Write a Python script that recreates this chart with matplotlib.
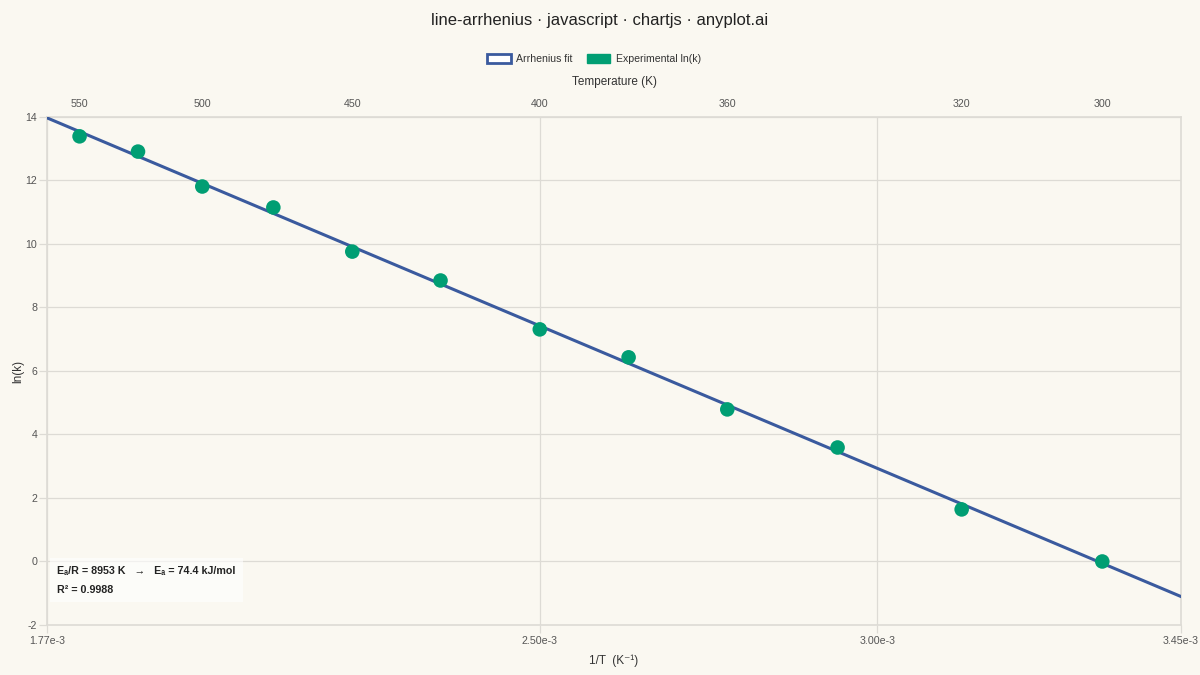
import numpy as np
import matplotlib
matplotlib.use('agg')
import matplotlib.pyplot as plt
from matplotlib.patches import Patch

plt.rcParams['font.family'] = ['Liberation Sans', 'DejaVu Sans']
plt.rcParams['axes.unicode_minus'] = False

# data
temps = [550, 525, 500, 475, 450, 425, 400, 380, 360, 340, 320, 300]
lnk = [13.39, 12.91, 11.81, 11.15, 9.76, 8.85, 7.31, 6.43, 4.79, 3.59, 1.64, 0.0]
top_temps = [550, 500, 450, 400, 360, 320, 300]
bottom_ticks = [1.77e-3, 2.50e-3, 3.00e-3, 3.45e-3]
bottom_labels = ['1.77e-3', '2.50e-3', '3.00e-3', '3.45e-3']
y_ticks = [-2, 0, 2, 4, 6, 8, 10, 12, 14]

bg = '#FAF8F1'
grid_c = '#DDDBD5'
line_c = '#3A5A9E'
pt_c = '#009E73'
txt_c = '#333333'

inv_t = 1.0 / np.array(temps)
slope, intercept = np.polyfit(inv_t, lnk, 1)
xfit = np.array([bottom_ticks[0], bottom_ticks[-1]])
yfit = slope * xfit + intercept

fig = plt.figure(figsize=(12, 6.75), dpi=100, facecolor=bg)
ax = fig.add_axes([0.0392, 0.0741, 0.9450, 0.7526])
ax.set_facecolor(bg)

ax.plot(xfit, yfit, color=line_c, lw=2.2, zorder=3)
ax.scatter(inv_t, lnk, s=110, color=pt_c, zorder=4, edgecolors='none')

ax.set_xlim(bottom_ticks[0], bottom_ticks[-1])
ax.set_ylim(-2, 14)
ax.set_xticks(bottom_ticks)
ax.set_xticklabels(bottom_labels)
ax.set_yticks(y_ticks)
ax.grid(True, color=grid_c, lw=0.9)
ax.set_axisbelow(True)
for s in ax.spines.values():
    s.set_color(grid_c)
    s.set_linewidth(1.2)
ax.tick_params(axis='both', colors=grid_c, labelcolor='#555555', labelsize=7.7, length=6, width=0.9)
ax.tick_params(axis='x', pad=2)
ax.tick_params(axis='y', pad=1)
ax.set_xlabel('1/T  (K⁻¹)', fontsize=8.5, color=txt_c, labelpad=6)
ax.set_ylabel('ln(k)', fontsize=8.5, color=txt_c, labelpad=1)

# top temperature axis
ax2 = ax.twiny()
ax2.set_xlim(ax.get_xlim())
ax2.set_xticks(1.0 / np.array(top_temps))
ax2.set_xticklabels([str(t) for t in top_temps])
ax2.tick_params(axis='x', length=0, pad=6, labelsize=7.7, labelcolor='#555555')
for s in ax2.spines.values():
    s.set_visible(False)
ax2.set_xlabel('Temperature (K)', fontsize=8.5, color=txt_c, labelpad=9.5)

# annotation box
ax.text(0.009, 0.088, 'Eₐ/R = 8953 K   →   Eₐ = 74.4 kJ/mol\n\nR² = 0.9988',
        transform=ax.transAxes, fontsize=7.7, fontweight='bold', color='#222222',
        va='center', ha='left', linespacing=0.95,
        bbox=dict(boxstyle='square,pad=0.7', fc='white', ec='none', alpha=0.6), zorder=5)

handles = [Patch(facecolor='white', edgecolor=line_c, lw=2, label='Arrhenius fit'),
           Patch(facecolor=pt_c, edgecolor=pt_c, label='Experimental ln(k)')]
fig.legend(handles=handles, loc='center', bbox_to_anchor=(0.495, 0.912), ncol=2,
           frameon=False, fontsize=7.6, handlelength=2.2, handleheight=0.9,
           columnspacing=1.4, handletextpad=0.5, labelcolor=txt_c)

fig.suptitle('line-arrhenius · javascript · chartjs · anyplot.ai', y=0.970, va='center',
             fontsize=12, color='#222222')

fig.savefig('out.png', dpi=100, facecolor=bg)
